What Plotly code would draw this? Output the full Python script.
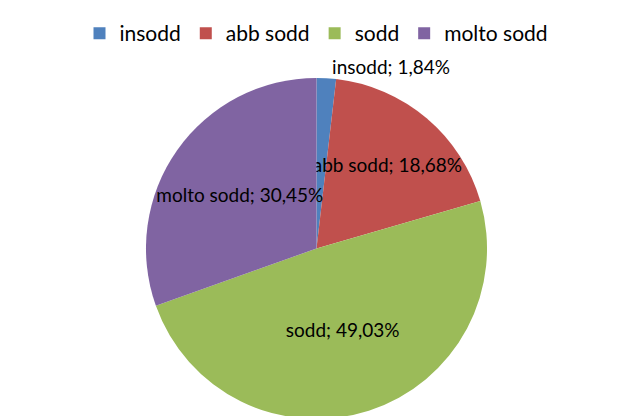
import plotly.graph_objects as go

categories = ["insodd", "abb sodd", "sodd", "molto sodd"]
values = [1.84, 18.68, 49.03, 30.45]
colors = ["#4F81BD", "#C0504D", "#9BBB59", "#8064A2"]

fig = go.Figure(go.Pie(
    labels=categories,
    values=values,
    sort=False,
    direction="clockwise",
    rotation=0,
    marker=dict(colors=colors, line=dict(color="white", width=0)),
    texttemplate="%{label}; %{percent:.2%}",
    textposition=["outside", "inside", "inside", "inside"],
    insidetextorientation="horizontal",
    textfont=dict(size=19, color="black", family="Lato, Liberation Sans, sans-serif"),
    outsidetextfont=dict(size=19, color="black"),
    domain=dict(x=[0, 1], y=[0, 0.84]),
    hoverinfo="label+percent",
))

fig.update_layout(
    width=617, height=416,
    margin=dict(l=5, r=5, t=5, b=5),
    separators=",.",
    paper_bgcolor="white",
    font=dict(family="Lato, Liberation Sans, sans-serif", color="black"),
    legend=dict(orientation="h", x=0.5, xanchor="center", y=1.0, yanchor="top",
                font=dict(size=21), traceorder="normal"),
    uniformtext=dict(minsize=19, mode="show"),
)

fig.write_html("out.html")
